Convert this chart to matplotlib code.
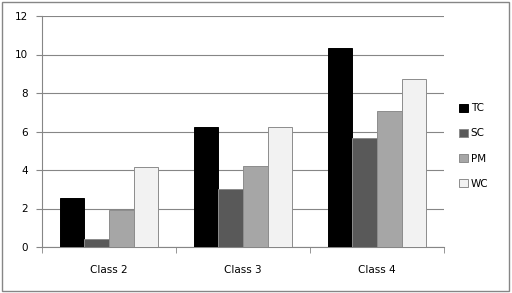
import numpy as np
import matplotlib
matplotlib.use("Agg")
import matplotlib.pyplot as plt
from matplotlib.patches import Rectangle

# Datos
clases = ["Class 2", "Class 3", "Class 4"]
series = ["TC", "SC", "PM", "WC"]
tc = [2.55, 6.22, 10.35]
sc = [0.4, 3.0, 5.65]
pm = [1.92, 4.2, 7.05]
wc = [4.18, 6.25, 8.75]
colores = ["#000000", "#595959", "#a6a6a6", "#f2f2f2"]

plt.rcParams["font.family"] = "DejaVu Sans"
fig = plt.figure(figsize=(5.12, 2.93), dpi=100)
ax = fig.add_axes([42 / 512, 1 - 247 / 293, 402 / 512, 231 / 293])

x = np.arange(len(clases))
ancho = 0.183
valores = [tc, sc, pm, wc]
for i, (nombre, vals, c) in enumerate(zip(series, valores, colores)):
    ax.bar(x + (i - 1.5) * ancho, vals, ancho, color=c, label=nombre,
           edgecolor="#8c8c8c" if i > 0 else "#000000", linewidth=0.7, zorder=3)

ax.set_ylim(0, 12)
ax.set_yticks(range(0, 13, 2))
ax.set_xlim(-0.5, 2.5)
ax.set_xticks(x)
ax.set_xticklabels(clases)
ax.set_xticks([-0.5, 0.5, 1.5, 2.5], minor=True)
ax.tick_params(axis="x", which="major", length=0, pad=13, labelsize=7.5)
ax.tick_params(axis="x", which="minor", length=4, color="#868686")
ax.tick_params(axis="y", length=4, color="#868686", labelsize=7.5, pad=6)
ax.grid(axis="y", color="#868686", linewidth=0.8, zorder=0)
for lado in ["top", "right"]:
    ax.spines[lado].set_visible(False)
for lado in ["left", "bottom"]:
    ax.spines[lado].set_color("#868686")

fig.legend(loc="center left", bbox_to_anchor=(450 / 512, 1 - 146 / 293),
           frameon=False, fontsize=7.5, handlelength=0.8, handleheight=0.8,
           labelspacing=1.45, handletextpad=0.3)

fig.patches.append(Rectangle((2 / 512, 2 / 293), 507 / 512, 289 / 293,
                             transform=fig.transFigure, fill=False,
                             edgecolor="#868686", linewidth=1))

fig.savefig("out.png", dpi=100)
